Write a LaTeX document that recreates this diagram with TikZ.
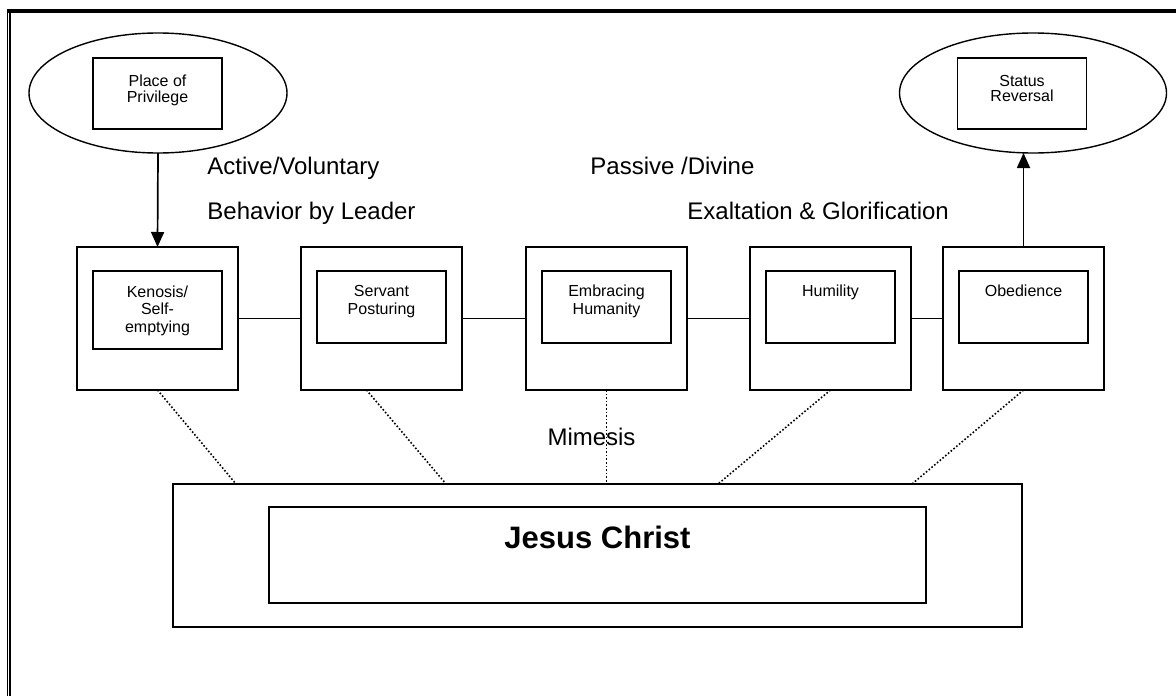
\documentclass[tikz,border=0pt]{standalone}
\usepackage{fontspec}
\setmainfont{Liberation Sans}
\usetikzlibrary{positioning,shapes.geometric,arrows.meta,calc}
\begin{document}
\begin{tikzpicture}[>={Triangle[length=7.5pt,width=6.5pt]}, x=0.5pt, y=-0.5pt]
% --- Layout & Styles --------------------------------------
\tikzstyle{big box}=[draw, line width=0.8pt, inner sep=0, outer sep=0, minimum width=80.5pt, minimum height=71.5pt]
\tikzstyle{small box}=[draw, line width=0.8pt, inner sep=0, outer sep=0, minimum width=64.5pt, minimum height=36pt]
\tikzstyle{oval}=[ellipse, draw, line width=0.7pt, inner sep=0, outer sep=0, minimum height=60pt]
\tikzstyle{box text}=[align=center, inner sep=0, font=\fontsize{8}{8.9}\selectfont]
\tikzstyle{oval text}=[align=center, inner sep=0, font=\fontsize{8}{7.6}\selectfont]
\tikzstyle{side text}=[anchor=base west, inner sep=0, font=\fontsize{12}{14}\selectfont]
\tikzstyle{link}=[line width=0.7pt]
\tikzstyle{mimesis link}=[line width=0.8pt, dash pattern=on 0.8pt off 1pt]
\useasboundingbox (0,0) rectangle (1176,696);
% --- Frame ------------------------------------------------
\draw[double, line width=0.8pt, double distance=0.5pt] (8.9,9) -- (8.9,696);
\draw[line width=2pt] (6.8,10.5) -- (1176,10.5);
% --- Ovals ------------------------------------------------
\node(pp)[oval, minimum width=129pt] at (158,93) {};
\node(ppin)[small box, minimum height=35.5pt] at (157.5,93.5) {};
\node(ppt)[oval text, below=8.5pt of ppin.north] {Place of\\Privilege};
\node(sr)[oval, minimum width=133.5pt] at (1033,93) {};
\node(srin)[small box, minimum height=35.5pt] at (1022,93.5) {};
\node(srt)[oval text, below=8.5pt of srin.north] {Status\\Reversal};
% --- Row of boxes -----------------------------------------
\node(k)[big box] at (157.5,318.5) {};
\node(sp)[big box, right=31.5pt of k] {};
\node(eh)[big box, right=32pt of sp] {};
\node(hu)[big box, right=31.5pt of eh] {};
\node(ob)[big box, right=16pt of hu] {};
\node(kin)[small box, minimum height=39pt, below=12pt of k.north] {};
\node(spin)[small box, below=12pt of sp.north] {};
\node(ehin)[small box, below=12pt of eh.north] {};
\node(huin)[small box, below=12pt of hu.north] {};
\node(obin)[small box, below=12pt of ob.north] {};
\node(kt)[box text, below=7pt of kin.north] {Kenosis/\\Self-\\emptying};
\node(spt)[box text, below=7pt of spin.north] {Servant\\Posturing};
\node(eht)[box text, below=7pt of ehin.north] {Embracing\\Humanity};
\node(hut)[box text, below=7pt of huin.north] {Humility};
\node(obt)[box text, below=7pt of obin.north] {Obedience};
% --- Jesus Christ -----------------------------------------
\node(jc)[big box, minimum width=424.5pt] at (597.5,555.5) {};
\node(jcin)[small box, minimum width=328.5pt, minimum height=48pt] at (597.5,555) {};
\node(jct)[anchor=base, inner sep=0, font=\fontsize{15.5}{18}\selectfont\bfseries] at (597.5,548) {Jesus Christ};
% --- Side labels ------------------------------------------
\node(av)[side text] at (207,174) {Active/Voluntary};
\node(bl)[side text] at (207,219) {Behavior by Leader};
\node(pd)[side text] at (590,174) {Passive /Divine};
\node(eg)[side text] at (687,219) {Exaltation \& Glorification};
\node(mim)[side text, anchor=base] at (591.5,445) {Mimesis};
% --- Edges ------------------------------------------------
\draw[link] (k) -- (sp);
\draw[link] (sp) -- (eh);
\draw[link] (eh) -- (hu);
\draw[link] (hu) -- (ob);
\draw[->, line width=0.85pt] (pp.south) -- (k.north);
\draw[->, line width=0.85pt] (ob.north) -- (ob.north |- sr.south);
\draw[mimesis link] (k.south) -- ($(jc.north west)+(63,0)$);
\draw[mimesis link] ([xshift=-7.5pt]sp.south) -- ($(jc.north west)+(273,0)$);
\draw[mimesis link] (eh.south) -- (eh.south |- jc.north);
\draw[mimesis link] (hu.south) -- ($(jc.north west)+(545,0)$);
\draw[mimesis link] (ob.south) -- ($(jc.north west)+(739,0)$);
\end{tikzpicture}
\end{document}
